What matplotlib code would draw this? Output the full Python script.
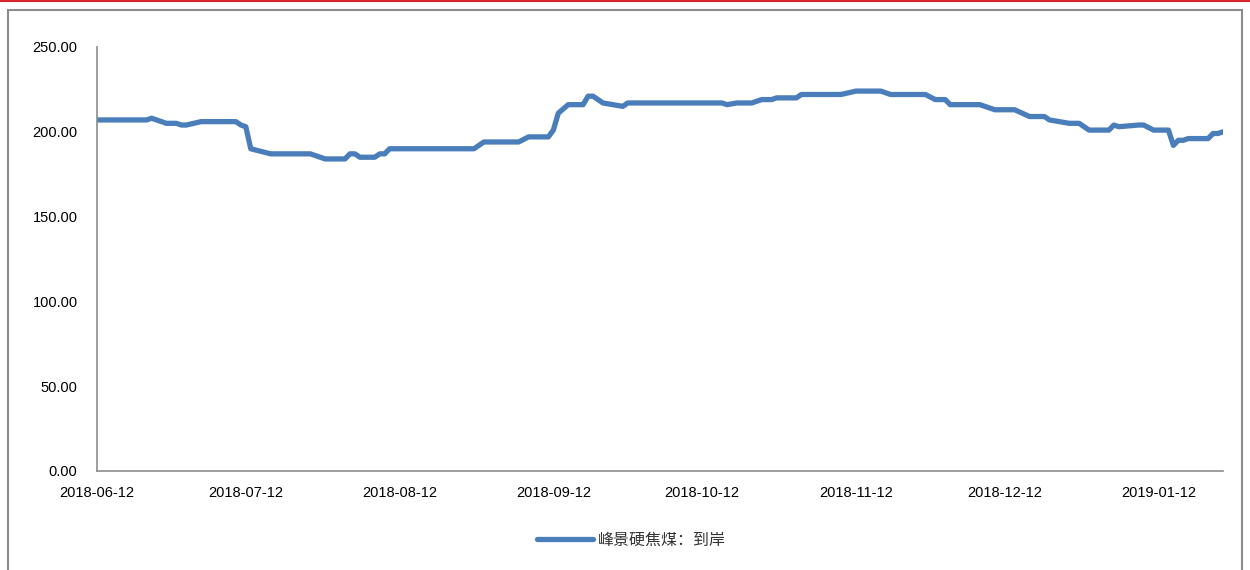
import pandas as pd
import matplotlib.pyplot as plt
import matplotlib.dates as mdates
from matplotlib.patches import Rectangle
from matplotlib.lines import Line2D
from matplotlib.ticker import FormatStrFormatter

plt.rcParams["font.family"] = ["Liberation Sans", "Noto Sans CJK SC", "DejaVu Sans"]

# price series at its turning points
dates = [
    "2018-06-12", "2018-06-22", "2018-06-23", "2018-06-26", "2018-06-28", "2018-06-29",
    "2018-06-30", "2018-07-03", "2018-07-10", "2018-07-11", "2018-07-12", "2018-07-13",
    "2018-07-17", "2018-07-25", "2018-07-28", "2018-08-01", "2018-08-02", "2018-08-03",
    "2018-08-04", "2018-08-07", "2018-08-08", "2018-08-09", "2018-08-10", "2018-08-27",
    "2018-08-29", "2018-09-05", "2018-09-07", "2018-09-11", "2018-09-12", "2018-09-13",
    "2018-09-15", "2018-09-18", "2018-09-19", "2018-09-20", "2018-09-22", "2018-09-26",
    "2018-09-27", "2018-10-16", "2018-10-17", "2018-10-19", "2018-10-22", "2018-10-24",
    "2018-10-26", "2018-10-27", "2018-10-31", "2018-11-01", "2018-11-09", "2018-11-12",
    "2018-11-17", "2018-11-19", "2018-11-26", "2018-11-28", "2018-11-30", "2018-12-01",
    "2018-12-07", "2018-12-10", "2018-12-14", "2018-12-17", "2018-12-20", "2018-12-21",
    "2018-12-25", "2018-12-27", "2018-12-29", "2019-01-02", "2019-01-03", "2019-01-04",
    "2019-01-08", "2019-01-09", "2019-01-11", "2019-01-14", "2019-01-15", "2019-01-16",
    "2019-01-17", "2019-01-18", "2019-01-22", "2019-01-23", "2019-01-24", "2019-01-25",
]
prices = [
    207, 207, 208, 205, 205, 204,
    204, 206, 206, 204, 203, 190,
    187, 187, 184, 184, 187, 187,
    185, 185, 187, 187, 190, 190,
    194, 194, 197, 197, 201, 211,
    216, 216, 221, 221, 217, 215,
    217, 217, 216, 217, 217, 219,
    219, 220, 220, 222, 222, 224,
    224, 222, 222, 219, 219, 216,
    216, 213, 213, 209, 209, 207,
    205, 205, 201, 201, 204, 203,
    204, 204, 201, 201, 192, 195,
    195, 196, 196, 199, 199, 200,
]
tick_dates = ["2018-06-12", "2018-07-12", "2018-08-12", "2018-09-12",
              "2018-10-12", "2018-11-12", "2018-12-12", "2019-01-12"]
series_name = "峰景硬焦煤：到岸"

x = pd.to_datetime(dates)

fig = plt.figure(figsize=(12.5, 5.7), dpi=100)
ax = fig.add_axes([97 / 1250, 1 - 471 / 570, (1223 - 97) / 1250, (471 - 47) / 570])

ax.plot(x, prices, color="#4A7EBB", lw=3.8, solid_capstyle="round",
        solid_joinstyle="round", label=series_name)

ax.set_xlim(x[0], x[-1])
ax.set_ylim(0, 250)
ax.set_yticks([0, 50, 100, 150, 200, 250])
ax.yaxis.set_major_formatter(FormatStrFormatter("%.2f"))
ax.set_xticks(pd.to_datetime(tick_dates))
ax.xaxis.set_major_formatter(mdates.DateFormatter("%Y-%m-%d"))

for s in ["top", "right"]:
    ax.spines[s].set_visible(False)
for s in ["left", "bottom"]:
    ax.spines[s].set_color("#8C8C8C")
    ax.spines[s].set_linewidth(1.2)
ax.tick_params(axis="y", length=0, pad=14, labelsize=10.5, colors="black")
ax.tick_params(axis="x", length=0, pad=11, labelsize=10.5, colors="black")

fig.legend(loc="center", bbox_to_anchor=(0.505, 0.052), frameon=False,
           handlelength=3.5, handletextpad=0.3, fontsize=11.5, labelcolor="#333333")

# outer frame and red rule at the top
fig.patches.append(Rectangle((8 / 1250, -0.05), 1234 / 1250, 1 - 10 / 570 + 0.05,
                             transform=fig.transFigure, fill=False,
                             edgecolor="#8C8C8C", lw=1.5))
fig.lines.append(Line2D([0, 1], [1 - 1 / 570, 1 - 1 / 570], transform=fig.transFigure,
                        color="#D9262B", lw=1.5))

plt.savefig("out.png", dpi=100)
